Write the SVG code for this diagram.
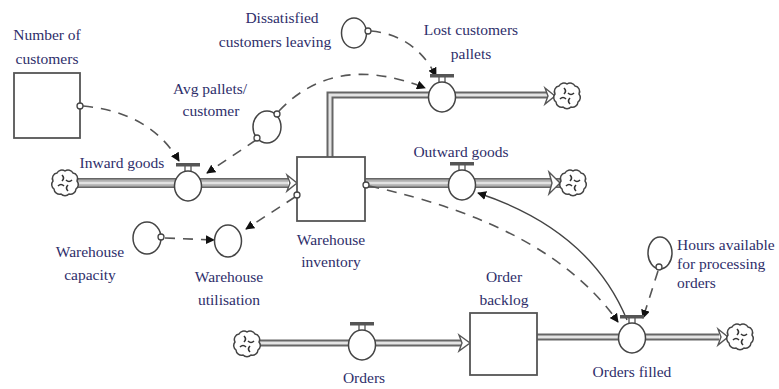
<svg xmlns="http://www.w3.org/2000/svg" xmlns:xlink="http://www.w3.org/1999/xlink" width="779" height="389" viewBox="0 0 779 389">
<style>
  .lbl{text-anchor:middle}
  .lbl-l{text-anchor:start}
  .box{fill:#fff;stroke:#555;stroke-width:1.8}
  .aux{fill:#fff;stroke:#444;stroke-width:1.5}
  .dash{fill:none;stroke:#555;stroke-width:1.6;stroke-dasharray:10 8}
  .solid{fill:none;stroke:#444;stroke-width:1.4}
  .pipeA{fill:none;stroke:#666;stroke-width:10}
  .pipeB{fill:none;stroke:#b0b0b0;stroke-width:7}
  .pipeC{fill:none;stroke:#e2e2e2;stroke-width:2.5}
  .tpA{fill:none;stroke:#666;stroke-width:7}
  .tpB{fill:none;stroke:#e4e4e4;stroke-width:3}
  .parr{fill:#fff;stroke:#555;stroke-width:1.4}
  .dot{fill:#fff;stroke:#444;stroke-width:1.3}
  .cloud{fill:#fff;stroke:#444;stroke-width:1.5}
  .swirl{fill:none;stroke:#333;stroke-width:1.6}
</style>
<defs>
  <marker id="ah" viewBox="0 0 10 10" refX="9" refY="5" markerWidth="9" markerHeight="9" markerUnits="userSpaceOnUse" orient="auto">
    <path d="M0,0 L10,5 L0,10 z" fill="#111"/>
  </marker>
  <g id="cloudSym">
    <path class="cloud" d="M-8,-10 a5.5,5.5 0 0 1 8,-2 a5.5,5.5 0 0 1 8,2 a5.5,5.5 0 0 1 4,8 a5.5,5.5 0 0 1 -1,8 a5.5,5.5 0 0 1 -7,5 a5.5,5.5 0 0 1 -8,0 a5.5,5.5 0 0 1 -7,-5 a5.5,5.5 0 0 1 -1,-8 a5.5,5.5 0 0 1 4,-8 z"/>
    <path class="swirl" d="M-3,-8 q3,3 0,6 M7,-3 q-3,3 -6,0 M3,8 q-3,-3 0,-6 M-7,3 q3,-3 6,0"/>
  </g>
  <g id="valveSym">
    <line x1="-3" y1="-20" x2="-3" y2="-14" stroke="#444" stroke-width="1.2"/>
    <line x1="3" y1="-20" x2="3" y2="-14" stroke="#444" stroke-width="1.2"/>
    <rect x="-12" y="-23" width="24" height="3.5" fill="#555"/>
    <ellipse cx="0" cy="0" rx="13.5" ry="15" class="aux"/>
  </g>
</defs>

<g id="connectors">
  <path class="pipeA" d="M77,183 L288,183"/><path class="pipeB" d="M77,183 L288,183"/><path class="pipeC" d="M77,183 L288,183"/>
  <path class="pipeA" d="M365,183 L560,183"/><path class="pipeB" d="M365,183 L560,183"/><path class="pipeC" d="M365,183 L560,183"/>
  <path class="tpA" d="M330,157 L330,95 L548,95"/><path class="tpB" d="M330,157 L330,95 L548,95"/>
  <path class="tpA" d="M259,343 L461,343"/><path class="tpB" d="M259,343 L461,343"/>
  <path class="tpA" d="M537,337 L719,337"/><path class="tpB" d="M537,337 L719,337"/>
  <polygon class="parr" points="287,175 297,183 287,191 290,183"/>
  <polygon class="parr" points="549,172 560,183 549,194 552,183"/>
  <polygon class="parr" points="545,88 555,96 545,104 548,96"/>
  <polygon class="parr" points="459,335 470,343 459,351 462,343"/>
  <polygon class="parr" points="718,329 728,337 718,345 721,337"/>
  <path class="dash" d="M83,106 Q150,112 179,161" marker-end="url(#ah)"/>
  <path class="dash" d="M256,140 L207,173" marker-end="url(#ah)"/>
  <path class="dash" d="M279,111 Q335,52 425,88" marker-end="url(#ah)"/>
  <path class="dash" d="M371,31 Q415,35 436,76" marker-end="url(#ah)"/>
  <path class="dash" d="M165,238 L214,240" marker-end="url(#ah)"/>
  <path class="dash" d="M295,197 L246,229" marker-end="url(#ah)"/>
  <path class="dash" d="M369,186 Q550,225 618,322" marker-end="url(#ah)"/>
  <path class="dash" d="M658,271 L643,318" marker-end="url(#ah)"/>
  <path class="solid" d="M627,320 Q590,230 478,193" marker-end="url(#ah)"/>
</g>

<g id="cloud-inward"><use xlink:href="#cloudSym" x="65" y="183"/></g>
<g id="cloud-lost"><use xlink:href="#cloudSym" x="567" y="96"/></g>
<g id="cloud-outward"><use xlink:href="#cloudSym" x="573" y="183"/></g>
<g id="cloud-orders"><use xlink:href="#cloudSym" x="247" y="344"/></g>
<g id="cloud-filled"><use xlink:href="#cloudSym" x="740" y="337"/></g>

<g font-family="Liberation Serif, serif" font-size="15.5" fill="#2e2e6a">
<g id="number-of-customers">
  <rect class="box" x="14" y="73" width="66" height="65"/>
  <circle class="dot" cx="80" cy="106" r="3"/>
  <text class="lbl" x="47" y="40">Number of</text>
  <text class="lbl" x="47" y="64">customers</text>
</g>

<g id="inward-goods">
  <use xlink:href="#valveSym" x="188" y="186"/>
  <text class="lbl" x="122" y="168">Inward goods</text>
</g>

<g id="avg-pallets">
  <ellipse class="aux" cx="267" cy="127" rx="14" ry="16"/>
  <circle class="dot" cx="277" cy="114" r="3"/>
  <circle class="dot" cx="257" cy="138" r="3"/>
  <text class="lbl" x="210" y="94">Avg pallets/</text>
  <text class="lbl" x="211" y="116">customer</text>
</g>

<g id="dissatisfied">
  <ellipse class="aux" cx="354" cy="33" rx="12.5" ry="15"/>
  <circle class="dot" cx="368" cy="31" r="3"/>
  <text class="lbl" x="282" y="23">Dissatisfied</text>
  <text class="lbl" x="275" y="47">customers leaving</text>
</g>

<g id="lost-customers">
  <use xlink:href="#valveSym" x="442" y="97"/>
  <text class="lbl" x="471" y="35">Lost customers</text>
  <text class="lbl" x="471" y="59">pallets</text>
</g>

<g id="warehouse-inventory">
  <rect class="box" x="297" y="157" width="68" height="64"/>
  <circle class="dot" cx="366" cy="185" r="3"/>
  <circle class="dot" cx="297" cy="195" r="3"/>
  <text class="lbl" x="331" y="245">Warehouse</text>
  <text class="lbl" x="331" y="267">inventory</text>
</g>

<g id="outward-goods">
  <use xlink:href="#valveSym" x="462" y="185"/>
  <text class="lbl" x="461" y="157">Outward goods</text>
</g>

<g id="warehouse-capacity">
  <ellipse class="aux" cx="147" cy="238" rx="14" ry="16"/>
  <circle class="dot" cx="161" cy="237" r="3"/>
  <text class="lbl" x="90" y="257">Warehouse</text>
  <text class="lbl" x="90" y="280">capacity</text>
</g>

<g id="warehouse-utilisation">
  <ellipse class="aux" cx="228" cy="241" rx="13.5" ry="16"/>
  <text class="lbl" x="229" y="282">Warehouse</text>
  <text class="lbl" x="229" y="305">utilisation</text>
</g>

<g id="orders">
  <use xlink:href="#valveSym" x="362" y="345"/>
  <text class="lbl" x="364" y="383">Orders</text>
</g>

<g id="order-backlog">
  <rect class="box" x="470" y="313" width="67" height="62"/>
  <text class="lbl" x="504" y="282">Order</text>
  <text class="lbl" x="504" y="305">backlog</text>
</g>

<g id="orders-filled">
  <use xlink:href="#valveSym" x="632" y="338"/>
  <text class="lbl" x="632" y="377">Orders filled</text>
</g>

<g id="hours-available">
  <ellipse class="aux" cx="660" cy="253" rx="12" ry="16"/>
  <circle class="dot" cx="659" cy="267" r="3"/>
  <text class="lbl-l" x="677" y="250">Hours available</text>
  <text class="lbl-l" x="677" y="269">for processing</text>
  <text class="lbl-l" x="677" y="288">orders</text>
</g>
</g>
</svg>
